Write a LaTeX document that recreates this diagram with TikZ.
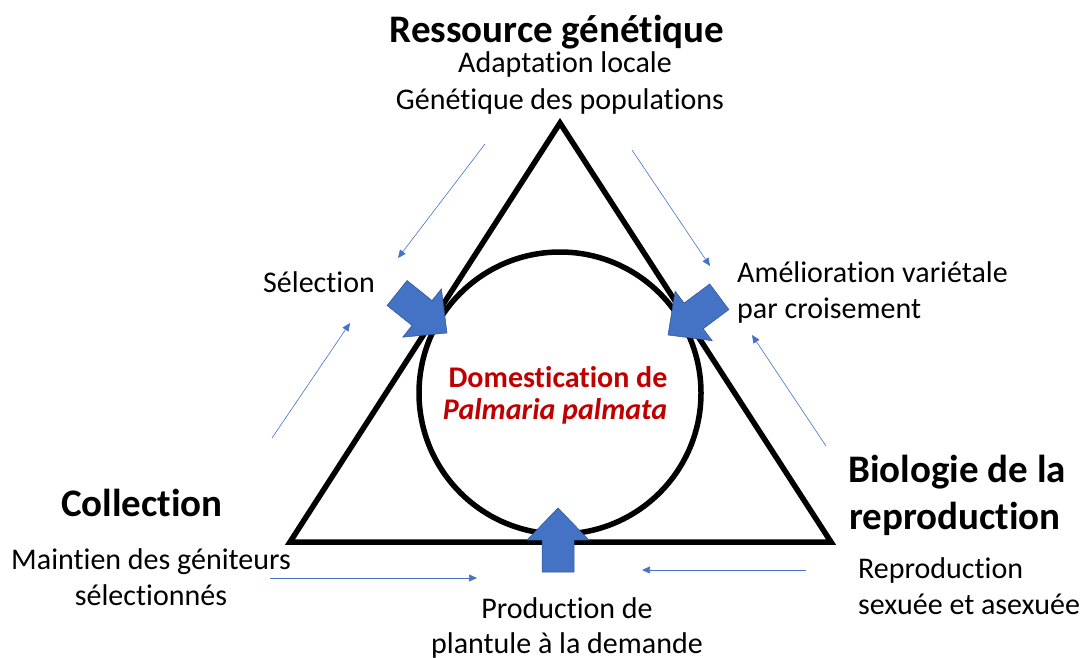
\documentclass[tikz,border=0pt]{standalone}
\usepackage{fontspec}
\setmainfont{Carlito}[Ligatures=NoCommon]
\usetikzlibrary{arrows.meta}
\definecolor{ablue}{HTML}{4472C4}
\definecolor{ablueedge}{HTML}{2F528F}
\definecolor{dred}{HTML}{C00000}
\tikzset{
  thick line/.style={line width=5.5pt},
  thinarrow/.style={draw=ablue, line width=0.6pt, -{Triangle[length=8pt,width=7pt]}},
  barrow/.style={fill=ablue, draw=ablueedge, line width=0.5pt},
  blockarrow/.pic={\path[barrow] (0,0) -- (-32,31) -- (-32,16) -- (-64,16) -- (-64,-16) -- (-32,-16) -- (-32,-31) -- cycle;},
  head/.style={font=\fontsize{39}{44}\selectfont\bfseries, inner sep=0pt},
  txt/.style={font=\fontsize{30}{36}\selectfont, inner sep=0pt},
  redtxt/.style={font=\fontsize{30}{36}\selectfont\bfseries, text=dred, inner sep=0pt},
  reditxt/.style={font=\fontsize{30}{36}\selectfont\bfseries\itshape, text=dred, inner sep=0pt},
}
\begin{document}
\begin{tikzpicture}[x=1pt,y=-1pt]
\useasboundingbox (0,0) rectangle (1081,658);
% triangle and circle
\coordinate (T) at (560,123);
\coordinate (BL) at (290,542);
\coordinate (BR) at (831,542);
\draw[thick line, line join=miter] (T) -- (BL) -- (BR) -- cycle;
\node[circle, draw, line width=5.5pt, minimum size=282pt, inner sep=0pt] (C) at (560,393) {};
% block arrows
\pic[rotate=-38.7] at (447,333) {blockarrow};
\pic[rotate=216.7] at (668,335) {blockarrow};
\pic[rotate=90] at (558,508) {blockarrow};
% texts
\node[head, anchor=base] (RG) at (557,43) {Ressource génétique};
\node[txt, anchor=base] (AL) at (565,73) {Adaptation locale};
\node[txt, anchor=base] (GP) at (560,110) {Génétique des populations};
\node[txt, anchor=base west] (SEL) at (263,292) {Sélection};
\node[txt, anchor=base west] (AV1) at (737,282) {Amélioration variétale};
\node[txt, anchor=base west] (AV2) at (737,318) {par croisement};
\node[redtxt, anchor=base] (D1) at (558,387) {Domestication de};
\node[reditxt, anchor=base] (D2) at (555,419) {Palmaria palmata};
\node[head, anchor=base] (COL) at (142,516) {Collection};
\node[head, anchor=base] (BIO1) at (957,482) {Biologie de la};
\node[head, anchor=base] (BIO2) at (955,529) {reproduction};
\node[txt, anchor=base] (MG1) at (151,569) {Maintien des géniteurs};
\node[txt, anchor=base] (MG2) at (151,605) {sélectionnés};
\node[txt, anchor=base] (PP1) at (567,618) {Production de};
\node[txt, anchor=base] (PP2) at (567,653) {plantule à la demande};
\node[txt, anchor=base west] (RS1) at (858,578) {Reproduction};
\node[txt, anchor=base west] (RS2) at (858,614) {sexuée et asexuée};
% thin arrows
\coordinate (a1s) at (485,144); \coordinate (a1e) at (398,258);
\coordinate (a2s) at (272,438); \coordinate (a2e) at (350,323);
\coordinate (a3s) at (632,150); \coordinate (a3e) at (710,266);
\coordinate (a4s) at (826,446); \coordinate (a4e) at (752,335);
\coordinate (a5s) at (270,578); \coordinate (a5e) at (477,578);
\coordinate (a6s) at (806,570); \coordinate (a6e) at (642,570);
\draw[thinarrow] (a1s) -- (a1e);
\draw[thinarrow] (a2s) -- (a2e);
\draw[thinarrow] (a3s) -- (a3e);
\draw[thinarrow] (a4s) -- (a4e);
\draw[thinarrow] (a5s) -- (a5e);
\draw[thinarrow] (a6s) -- (a6e);
\end{tikzpicture}
\end{document}
